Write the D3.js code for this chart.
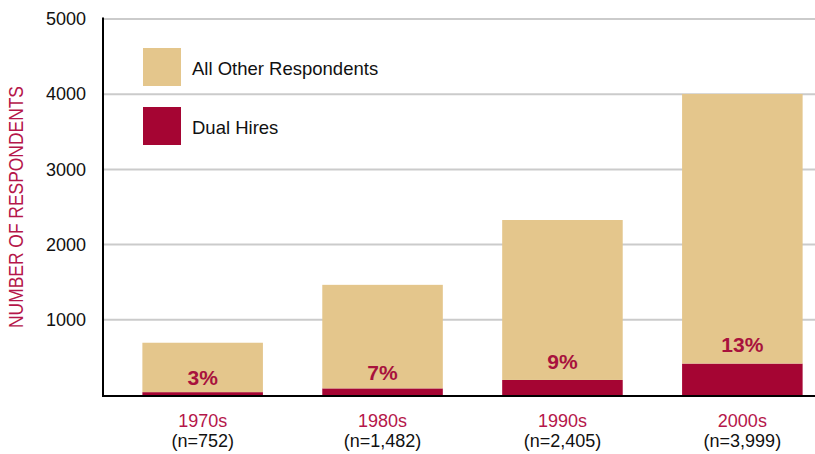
<!DOCTYPE html>
<html>
<head>
<meta charset="utf-8">
<script src="https://cdn.jsdelivr.net/npm/d3@7"></script>
<style>
  html, body { margin: 0; padding: 0; background: #fff; }
  svg { display: block; font-family: "Liberation Sans", Arial, Helvetica, sans-serif; }
</style>
</head>
<body>
<svg id="chart" width="815" height="454"></svg>
<script>
const decades = ["1970s", "1980s", "1990s", "2000s"];
const sampleLabels = ["(n=752)", "(n=1,482)", "(n=2,405)", "(n=3,999)"];
const dualHires = [38, 88, 200, 418];
const allOther = [657, 1377, 2127, 3585];
const pctLabels = ["3%", "7%", "9%", "13%"];
const yTicks = [1000, 2000, 3000, 4000, 5000];
const legendLabels = ["All Other Respondents", "Dual Hires"];

const tan = "#e4c68c", crimson = "#a50533", labelRed = "#b5164a";

const svg = d3.select("#chart");
const x = d3.scaleBand().domain(decades).range([110, 835]).paddingInner(0.33).paddingOuter(0.18);
const y = d3.scaleLinear().domain([0, 5000]).range([395, 19]);

// gridlines
svg.append("g").selectAll("line").data(yTicks).join("line")
  .attr("x1", 103).attr("x2", 815)
  .attr("y1", d => y(d)).attr("y2", d => y(d))
  .attr("stroke", "#cbcbcb").attr("stroke-width", 2);

// stacked data
const rows = decades.map((d, i) => ({ decade: d, dual: dualHires[i], other: allOther[i] }));
const stack = d3.stack().keys(["dual", "other"])(rows);
const colors = { dual: crimson, other: tan };

svg.append("g").selectAll("g").data(stack).join("g")
  .attr("fill", s => colors[s.key])
  .selectAll("rect").data(s => s).join("rect")
  .attr("x", d => x(d.data.decade))
  .attr("width", x.bandwidth())
  .attr("y", d => y(d[1]))
  .attr("height", d => y(d[0]) - y(d[1]));

// percentage labels
svg.append("g").selectAll("text").data(rows).join("text")
  .attr("x", d => x(d.decade) + x.bandwidth() / 2)
  .attr("y", d => y(d.dual) - Math.min(12, 6 + d.dual / 40))
  .attr("text-anchor", "middle")
  .attr("font-size", 21).attr("font-weight", "bold")
  .attr("fill", "#a8123d")
  .text((d, i) => pctLabels[i]);

// axes
const yAxis = d3.axisLeft(y).tickValues([...yTicks]).tickSize(0).tickPadding(17).tickFormat(d3.format("d"));
const gy = svg.append("g").attr("transform", "translate(103,0)").call(yAxis);
gy.select(".domain").remove();
gy.selectAll("text").attr("font-size", 18).attr("fill", "#111").attr("font-family", "Liberation Sans, Arial, sans-serif");
svg.append("line").attr("x1", 103).attr("x2", 103).attr("y1", y(5000) - 1.5).attr("y2", y(0) + 1)
  .attr("stroke", "#000").attr("stroke-width", 2);
svg.append("line").attr("x1", 102).attr("x2", 815).attr("y1", y(0) + 1).attr("y2", y(0) + 1)
  .attr("stroke", "#000").attr("stroke-width", 2);

// x labels
const xl = svg.append("g").selectAll("g").data(decades).join("g")
  .attr("transform", d => `translate(${x(d) + x.bandwidth() / 2},0)`);
xl.append("text").attr("y", 427).attr("text-anchor", "middle")
  .attr("font-size", 18).attr("fill", labelRed).text(d => d);
xl.append("text").attr("y", 447).attr("text-anchor", "middle")
  .attr("font-size", 18).attr("fill", "#111").text((d, i) => sampleLabels[i]);

// y title
svg.append("text")
  .attr("transform", `translate(23,${(y(5000) + y(0)) / 2}) rotate(-90)`)
  .attr("text-anchor", "middle")
  .attr("font-size", 20).attr("fill", labelRed)
  .attr("textLength", 242).attr("lengthAdjust", "spacingAndGlyphs")
  .text("NUMBER OF RESPONDENTS");

// legend
const legColors = [tan, crimson];
const lg = svg.append("g").selectAll("g").data(legendLabels).join("g")
  .attr("transform", (d, i) => `translate(143,${48 + i * 59})`);
lg.append("rect").attr("width", 38).attr("height", 38).attr("fill", (d, i) => legColors[i]);
lg.append("text").attr("x", 49).attr("y", 27).attr("font-size", 18.5).attr("fill", "#111").text(d => d);
</script>
</body>
</html>
